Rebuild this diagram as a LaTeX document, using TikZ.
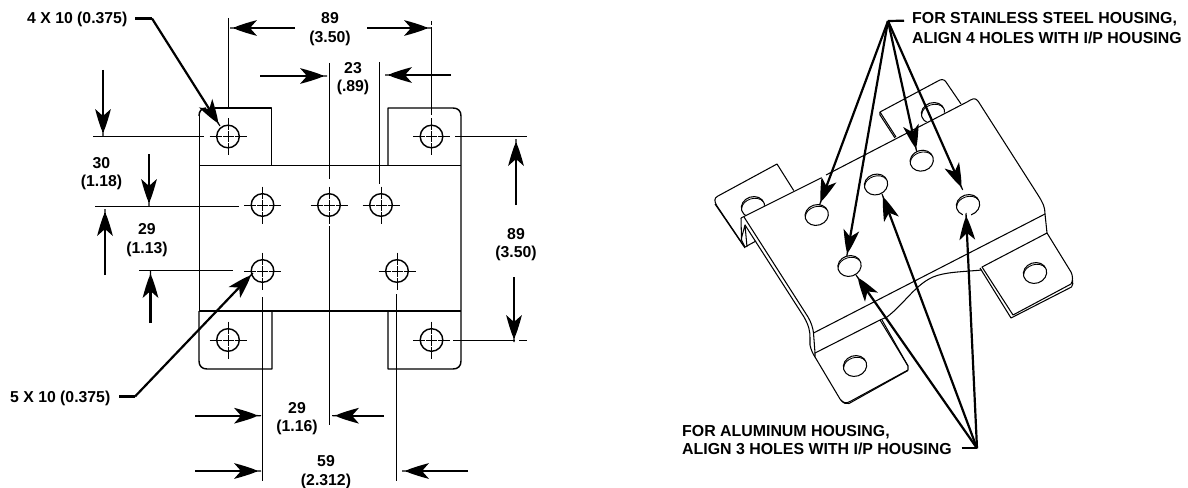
\documentclass[tikz,border=0pt]{standalone}
\usepackage{fontspec}
\setmainfont{Liberation Sans}
\usetikzlibrary{arrows.meta}
\pgfdeclarearrow{
  name=Needle,
  setup code={\pgfarrowssettipend{0pt}\pgfarrowssetlineend{-18pt}\pgfarrowssetbackend{-27pt}\pgfarrowssetvisualbackend{-19pt}},
  drawing code={
    \pgfpathmoveto{\pgfpoint{0pt}{0.5pt}}
    \pgfpathlineto{\pgfpoint{-5pt}{0.8pt}}
    \pgfpathcurveto{\pgfpoint{-9pt}{2.8pt}}{\pgfpoint{-19pt}{5.8pt}}{\pgfpoint{-27pt}{7.9pt}}
    \pgfpathlineto{\pgfpoint{-20pt}{0pt}}
    \pgfpathlineto{\pgfpoint{-27pt}{-7.9pt}}
    \pgfpathcurveto{\pgfpoint{-19pt}{-5.8pt}}{\pgfpoint{-9pt}{-2.8pt}}{\pgfpoint{-5pt}{-0.8pt}}
    \pgfpathlineto{\pgfpoint{0pt}{-0.5pt}}
    \pgfpathclose
    \pgfusepathqfill
  }
}
\tikzset{
  thinl/.style={line width=0.95pt,black},
  part/.style={line width=1.45pt,black,line join=round},
  iso/.style={line width=1.05pt,black,line join=round},
  arr/.style={line width=2.2pt,black,-{Needle}},
  lead/.style={line width=2.2pt,black},
  lbl/.style={font=\fontsize{15.8}{18.5}\bfseries\selectfont,align=center,inner sep=0pt,text=black},
  note/.style={font=\fontsize{15.9}{19}\bfseries\selectfont,inner sep=0pt,anchor=base west,text=black}
}
\newcommand{\hole}[2]{%
  \draw[part] (#1,#2) circle[radius=11.3];
  \draw[thinl] (#1-18.5,#2)--(#1-6.5,#2) (#1-5.5,#2)--(#1+5.5,#2) (#1+6.5,#2)--(#1+18.5,#2)
               (#1,#2-18.5)--(#1,#2-6.5) (#1,#2-5.5)--(#1,#2+5.5) (#1,#2+6.5)--(#1,#2+18.5);}
\newcommand{\ehole}[2]{%
  \begin{scope}[shift={(#1,#2)},rotate=18]
  \filldraw[iso,fill=white] (0,0) ellipse[x radius=11.8,y radius=10.3];
  \draw[line width=0.85pt] (-11.3,-2) .. controls (-8,-10.5) and (8,-10.5) .. (11.3,-2);
  \end{scope}}
\newcommand{\conn}[3]{\coordinate (#1s) at (#2); \coordinate (#1e) at (#3); \draw[arr] (#1s)--(#1e);}
\begin{document}
\begin{tikzpicture}[x=1pt,y=-1pt]
\useasboundingbox (0,0) rectangle (1188,487);
% ---------- left view: part outline
\draw[thinl] (199,311)--(199,116);
\draw[part] (199,116) .. controls (199,112) and (201,108) .. (206,108);
\draw[part] (215,108)--(271.5,108)--(271.5,165.5);
\draw[part] (199,165.5)--(461,165.5);
\draw[part] (388,165.5)--(388,108)--(453,108) .. controls (458,108) and (461,111) .. (461,116)--(461,361) .. controls (461,366) and (458,369) .. (453,369)--(388,369)--(388,311);
\draw[part] (199,311)--(461,311);
\draw[part] (199,311)--(199,361) .. controls (199,366) and (202,369) .. (207,369)--(272,369)--(272,311);
% holes
\hole{228}{136.5}\hole{431.5}{136.5}
\hole{262.5}{205}\hole{329}{205}\hole{381}{205}
\hole{262.5}{271}\hole{397}{271}
\hole{228}{340}\hole{431.5}{340}
% extension lines
\draw[thinl] (228,18)--(228,109);
\draw[thinl] (431.5,21)--(431.5,25) (431.5,27)--(431.5,115);
\draw[thinl] (329,63)--(329,179) (329,226)--(329,425);
\draw[thinl] (379,62)--(379,184);
\draw[thinl] (262.7,297)--(262.7,481);
\draw[thinl] (396.7,294)--(396.7,481);
\draw[thinl] (93,136.5)--(204,136.5);
\draw[thinl] (95,206.5)--(239,206.5);
\draw[thinl] (139,270.7)--(233,270.7);
\draw[thinl] (455,136.5)--(527,136.5);
\draw[thinl] (453,340)--(515,340) (519,340)--(527,340);
% dimension arrows
\conn{a}{103,70}{103,136}
\conn{b}{149,154}{149,206}
\conn{c}{105,275}{105,209}
\conn{d}{150.5,323}{150.5,271}
\conn{e}{295,28}{230,28}
\conn{f}{367,28}{431,28}
\conn{g}{260,76}{327,76}
\conn{h}{451,75}{385,75}
\conn{i}{516,205}{516,139}
\conn{j}{514,277}{514,342}
\conn{k}{195,415.7}{261,415.7}
\conn{l}{384,415.7}{332,415.7}
\conn{m}{195,471}{261,471}
\conn{n}{468,471}{402,471}
% dimension labels
\node[lbl] (t1) at (101.5,173.5) {30\\(1.18)};
\node[lbl] (t2) at (147,240) {29\\(1.13)};
\node[lbl] (t3) at (330,29) {89\\(3.50)};
\node[lbl] (t4) at (353,78.5) {23\\(.89)};
\node[lbl] (t5) at (516,244.5) {89\\(3.50)};
\node[lbl] (t6) at (297,418.5) {29\\(1.16)};
\node[lbl] (t7) at (326,472) {59\\(2.312)};
% callouts
\node[lbl,anchor=base east] (c1) at (127.5,23.5) {4 X 10 (0.375)};
\node[lbl,anchor=base east] (c2) at (110.5,402) {5 X 10 (0.375)};
\coordinate (c1l) at (135,18.5); \coordinate (c1k) at (152,18.5); \coordinate (c1t) at (220,126);
\draw[lead] (c1l)--(c1k);
\draw[arr] (c1k)--(c1t);
\coordinate (c2l) at (119,396.5); \coordinate (c2k) at (135,396.5); \coordinate (c2t) at (253,273);
\draw[lead] (c2l)--(c2k);
\draw[arr] (c2k)--(c2t);
% ---------- right view
% back tabs
\draw[iso,fill=white] (744,246)--(717,206) .. controls (714,201) and (714,198) .. (718,196)--(777,164)--(794,191);
\draw[iso] (745,248)--(715,204);
\ehole{753}{207}
\draw[iso,fill=white] (896,137)--(880,112)--(938,81) .. controls (941,79) and (944,79) .. (946,82)--(961,104);
\draw[iso] (880,112)--(880,115)--(895,138);
\ehole{933}{113}
% plate
\path[fill=white] (741,218)--(973,98)--(1045,214)--(813,333)--(745,230)--cycle;
\draw[iso] (741,218)--(821,178) (826,175)--(967,102) .. controls (972,99) and (975,97) .. (978,101)--(1038,195) .. controls (1043,203) and (1045,207) .. (1045,214)--(813.5,333);
% notch
\draw[iso] (745,247)--(741.5,240)--(741,218);
\draw[iso] (741.5,238)--(745,225)--(747,247);
\draw[iso] (745,247)--(756,241);
% left edge
\draw[iso] (744,217)--(808,317) .. controls (811,322) and (813,328) .. (813.5,333);
\draw[iso] (745,225)--(804,317) .. controls (809,326) and (810,331) .. (810,338)--(810,345) .. controls (811,350) and (813,354) .. (815,357);
\draw[iso] (813.5,333)--(815,353);
% lower left tab
\draw[iso,fill=white] (815,353)--(880,320)--(908,366)--(908,370)--(851,401) .. controls (846,404) and (843,403) .. (840,399)--(815,357)--cycle;
\draw[iso] (908,370.5)--(849,403.5) .. controls (846,404.5) and (843,403) .. (841,400);
\draw[iso] (882,320)--(908,366);
% bend curve
\draw[iso] (880,320)--(887,317) .. controls (905,303) and (915,285) .. (933,277) .. controls (945,272) and (960,272) .. (982,270);
% lower right tab
\draw[iso,fill=white] (982,267)--(1047,233)--(1071,272) .. controls (1073,276) and (1073,281) .. (1071,284)--(1013,315)--cycle;
\draw[iso] (980,268)--(1011,318)--(1071.5,287) .. controls (1073,285) and (1073,283) .. (1072.5,280);
\draw[iso] (1045,214)--(1047,233);
% holes in iso
\ehole{816.7}{215}\ehole{876}{184.5}\ehole{921.7}{160.7}\ehole{968}{205}\ehole{849.5}{266}
\ehole{855}{366}\ehole{1035}{273}
\fill[white] (963,211) rectangle (971,216);
% notes
\node[note] (s1) at (912,24) {FOR STAINLESS STEEL HOUSING,};
\node[note] (s2) at (912,43.3) {ALIGN 4 HOLES WITH I/P HOUSING};
\node[note] (s3) at (682,436) {FOR ALUMINUM HOUSING,};
\node[note] (s4) at (682,454.3) {ALIGN 3 HOLES WITH I/P HOUSING};
\coordinate (sl) at (904,20.7); \coordinate (sk) at (888,21);
\draw[lead] (sl)--(sk);
\coordinate (h1) at (819.5,205); \coordinate (h5a) at (846.7,256.7); \coordinate (h3) at (916.7,151.7); \coordinate (h4a) at (962.7,190);
\draw[arr] (sk)--(h1); \draw[arr] (sk)--(h5a); \draw[arr] (sk)--(h3); \draw[arr] (sk)--(h4a);
\coordinate (al) at (961.7,448.3); \coordinate (ak) at (977,448.3);
\draw[lead] (al)--(ak);
\coordinate (h5b) at (856,275); \coordinate (h2) at (882,194); \coordinate (h4b) at (966,213);
\draw[arr] (ak)--(h5b); \draw[arr] (ak)--(h2); \draw[arr] (ak)--(h4b);
\end{tikzpicture}
\end{document}
